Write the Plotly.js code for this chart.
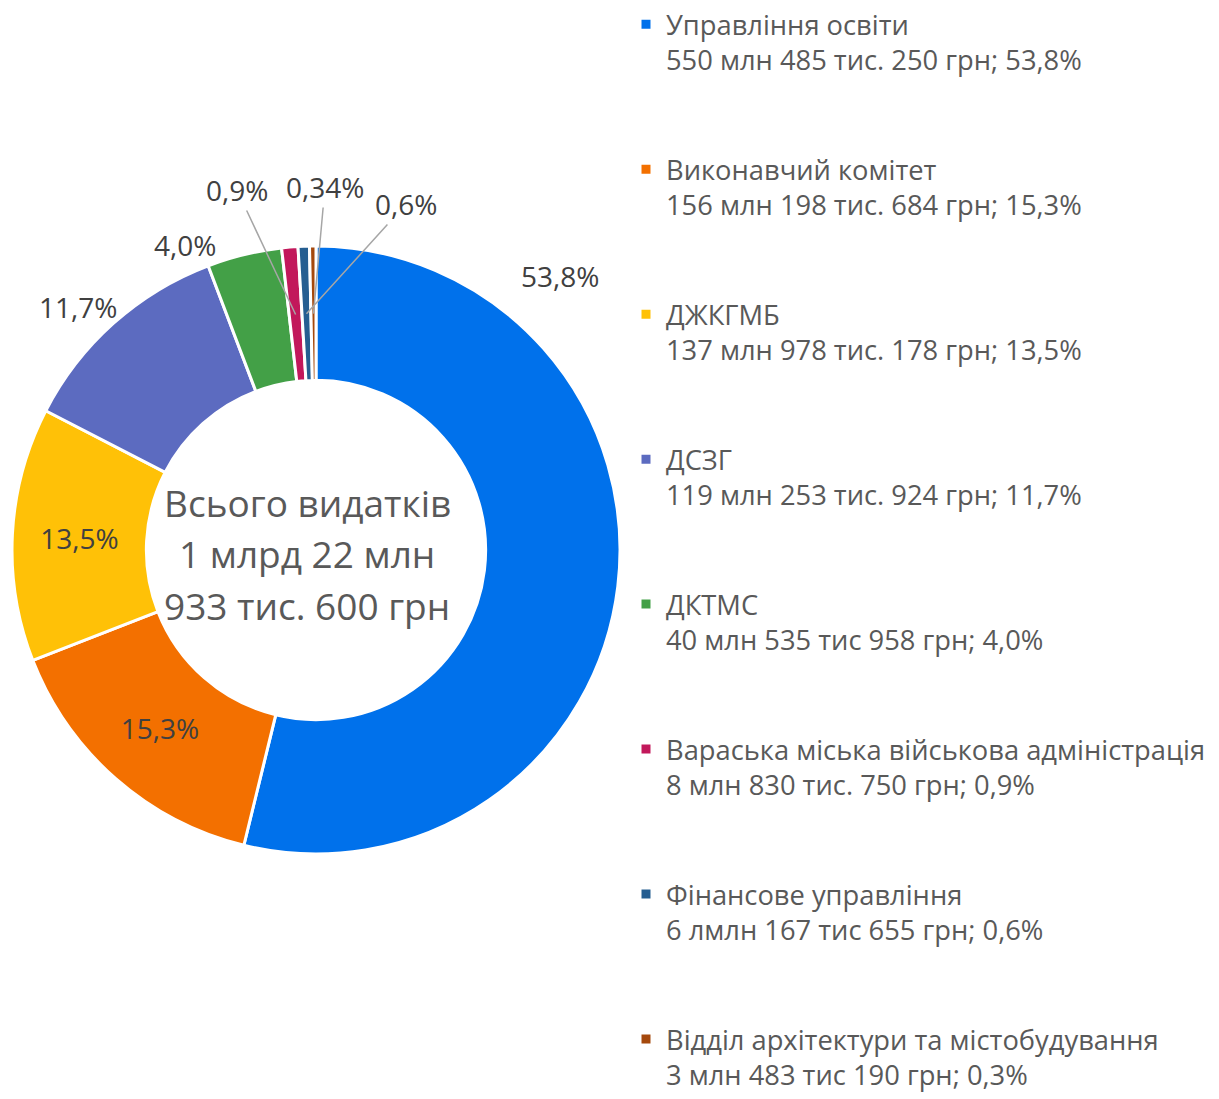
<!DOCTYPE html>
<html>
<head>
<meta charset="utf-8">
<script src="https://cdn.plot.ly/plotly-3.0.1.min.js"></script>
<style>html,body{margin:0;padding:0;background:#fff;}#chart{width:1219px;height:1099px;}</style>
</head>
<body>
<div id="chart"></div>
<script>
// ---- data ----
const departments = [
  'Управління освіти',
  'Виконавчий комітет',
  'ДЖКГМБ',
  'ДСЗГ',
  'ДКТМС',
  'Вараська міська військова адміністрація',
  'Фінансове управління',
  'Відділ архітектури та містобудування'
];
const amounts = [550485250, 156198684, 137978178, 119253924, 40535958, 8830750, 6167655, 3483190];
const amountLabels = [
  '550 млн 485 тис. 250 грн; 53,8%',
  '156 млн 198 тис. 684 грн; 15,3%',
  '137 млн 978 тис. 178 грн; 13,5%',
  '119 млн 253 тис. 924 грн; 11,7%',
  '40 млн 535 тис 958 грн; 4,0%',
  '8 млн 830 тис. 750 грн; 0,9%',
  '6 лмлн 167 тис 655 грн; 0,6%',
  '3 млн 483 тис 190 грн; 0,3%'
];
const sliceLabels = ['53,8%', '15,3%', '13,5%', '11,7%', '4,0%', '0,9%', '0,6%', '0,34%'];
const totalLines = ['Всього видатків', '1 млрд 22 млн', '933 тис. 600 грн'];
const colors = ['#0071EB', '#F37000', '#FFC107', '#5C6BC0', '#43A047', '#C2185B', '#255E91', '#A5490D'];

// ---- layout geometry ----
const W = 1219, H = 1099;
const cx = 316, cy = 550, R = 303;
const px = x => x / W;
const py = y => 1 - y / H;

const legendNames = departments.map((d, i) =>
  d + '<br>' + amountLabels[i] + (i < departments.length - 1 ? '<br> <br> ' : ''));
const inside = [false, true, true, false, false, false, false, false];

const trace = {
  type: 'pie',
  labels: legendNames,
  values: amounts,
  text: sliceLabels,
  texttemplate: '%{text}',
  textinfo: 'text',
  textposition: inside.map(v => v ? 'inside' : 'none'),
  insidetextorientation: 'horizontal',
  insidetextfont: {family: 'Open Sans', size: 28, color: '#404040'},
  sort: false,
  direction: 'clockwise',
  rotation: 0,
  hole: 0.558,
  marker: {colors: colors, line: {color: '#ffffff', width: 3}},
  domain: {x: [px(cx - R - 1), px(cx + R + 1)], y: [py(cy + R + 1), py(cy - R - 1)]},
  hoverinfo: 'none'
};

// outside labels placed around the ring
const total = amounts.reduce((a, b) => a + b, 0);
const cum = [];
amounts.reduce((acc, v, i) => { cum[i] = acc; return acc + v; }, 0);
const labelPos = {0: [560, 276], 3: [78, 307], 4: [185, 245], 5: [237, 190], 6: [406, 204], 7: [325, 187]};
const arrowed = {5: true, 6: true, 7: true};
const annotations = [];
Object.keys(labelPos).forEach(k => {
  const i = +k;
  const [lx, ly] = labelPos[i];
  const base = {text: sliceLabels[i], xref: 'paper', yref: 'paper', font: {family: 'Open Sans', size: 28, color: '#404040'}};
  if (arrowed[i]) {
    const th = 2 * Math.PI * (cum[i] + amounts[i] / 2) / total;
    const r = 0.78 * R;
    const tx = cx + r * Math.sin(th), ty = cy - r * Math.cos(th);
    annotations.push(Object.assign(base, {x: px(tx), y: py(ty), showarrow: true, arrowhead: 0, arrowwidth: 1.5,
      arrowcolor: '#A6A6A6', standoff: 0, ax: lx - tx, ay: ly - ty}));
  } else {
    annotations.push(Object.assign(base, {x: px(lx), y: py(ly), showarrow: false, xanchor: 'center', yanchor: 'middle'}));
  }
});

// centre text (three lines)
const centreY = [502, 553, 605];
totalLines.forEach((t, i) => {
  annotations.push({text: t, xref: 'paper', yref: 'paper', x: px(307), y: py(centreY[i]),
    xanchor: 'center', yanchor: 'middle', showarrow: false,
    font: {family: 'Open Sans', size: 37, color: '#595959'}});
});

const layout = {
  width: W, height: H,
  margin: {l: 0, r: 0, t: 0, b: 0},
  paper_bgcolor: '#ffffff',
  showlegend: true,
  legend: {x: px(626), y: 1.0, xanchor: 'left', yanchor: 'top', valign: 'top',
    font: {family: 'Open Sans', size: 27.3, color: '#595959'}, itemwidth: 30, bgcolor: 'rgba(0,0,0,0)'},
  annotations: annotations
};

Plotly.newPlot('chart', [trace], layout, {displayModeBar: false, staticPlot: true});
</script>
</body>
</html>
